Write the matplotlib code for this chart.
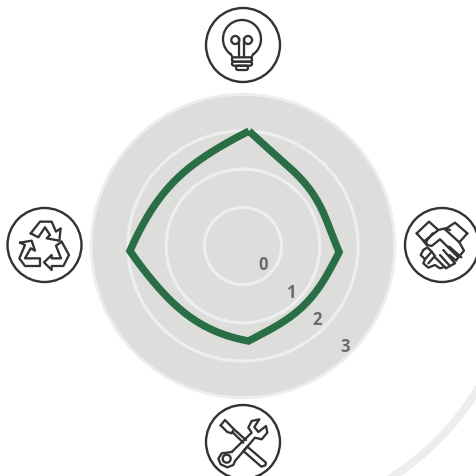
import numpy as np
import matplotlib
matplotlib.use("Agg")
import matplotlib.pyplot as plt
from matplotlib.patches import Circle, Arc, FancyBboxPatch

# ---- data ----
angle_deg = [3.0, 17.9, 31.1, 46.4, 63.1, 78.3, 93.6, 105.4, 120.7, 140.7, 159.9, 176.7,
             204.0, 224.5, 242.1, 256.5, 267.5, 278.8, 292.9, 312.0, 331.3, 346.9, 363.0]
values = [2.00, 1.55, 1.37, 1.30, 1.25, 1.31, 1.51, 1.35, 1.24, 1.22, 1.27, 1.48,
          1.31, 1.34, 1.41, 1.68, 1.95, 1.72, 1.55, 1.46, 1.50, 1.65, 2.00]
corner_index = [0, 6, 11, 16, 22]
ring_values = [0, 1, 2, 3]
ring_labels = ["0", "1", "2", "3"]

W, H = 477, 476
CX, CY = 243, 246
UNIT, R0 = 38.3, 38.5
RADIUS = 151.7
PX = 72 / 100
DISK, RING, GREEN, INK, LABEL = "#dddddb", "#eceef0", "#2a6e45", "#333333", "#6b6b6b"

fig = plt.figure(figsize=(W / 100, H / 100), dpi=100, facecolor="white")

# pixel-space layer for the background arc
bg = fig.add_axes([0, 0, 1, 1])
bg.set_xlim(0, W)
bg.set_ylim(H, 0)
bg.axis("off")
bg.add_patch(Arc((CX, CY), 550, 550, theta1=0, theta2=90, ec="#ebedef", lw=8 * PX))

# radar
ax = fig.add_axes([(CX - RADIUS) / W, (H - CY - RADIUS) / H, 2 * RADIUS / W, 2 * RADIUS / H], projection="polar")
ax.set_theta_zero_location("N")
ax.set_theta_direction(-1)
ax.set_facecolor(DISK)
ax.set_rlim(-R0 / UNIT, (RADIUS - R0) / UNIT)
ax.set_xticks([])
ax.set_yticks([])
ax.grid(False)
ax.spines["polar"].set_color("#ebedef")
ax.spines["polar"].set_linewidth(3 * PX)
t = np.linspace(0, 2 * np.pi, 361)
for v in ring_values[:-1]:
    ax.plot(t, np.full_like(t, v), color=RING, lw=3.2 * PX, zorder=2)

# the polygon: each side between two corners is drawn as a smooth curve through the read values
th_all, r_all = [], []
for i0, i1 in zip(corner_index[:-1], corner_index[1:]):
    a = np.array(angle_deg[i0:i1 + 1])
    v = np.array(values[i0:i1 + 1])
    weight = np.ones_like(a)
    weight[[0, -1]] = 30
    coef = np.polyfit(a - a.mean(), v, 4, w=weight)
    dense = np.linspace(a[0], a[-1], 60)
    curve = np.polyval(coef, dense - a.mean())
    curve += np.linspace(v[0] - curve[0], v[-1] - curve[-1], dense.size)  # end exactly on the corners
    th_all.append(dense if not th_all else dense[1:])
    r_all.append(curve if not r_all else curve[1:])
ax.plot(np.deg2rad(np.concatenate(th_all)), np.concatenate(r_all), color=GREEN, lw=7.4 * PX,
        solid_joinstyle="miter", solid_capstyle="butt", zorder=3)

for v, s in zip(ring_values, ring_labels):
    ax.annotate(s, xy=(np.deg2rad(135), v), xytext=(-6.8 * PX, 7.8 * PX), textcoords="offset points",
                ha="center", va="center", fontsize=12, fontweight="bold", family="Open Sans",
                color=LABEL, zorder=4, annotation_clip=False)

# icons, on top
ic = fig.add_axes([0, 0, 1, 1], facecolor="none")
ic.set_xlim(0, W)
ic.set_ylim(H, 0)
ic.axis("off")
LW = 2.3 * PX


def ring(cx, cy):
    ic.add_patch(Circle((cx, cy), 37, fill=False, ec=INK, lw=2.4 * PX))


def poly(ox, oy, pts, close=False):
    a = np.array(pts + pts[:1] if close else pts, float) / 3
    ic.plot(a[:, 0] + ox, a[:, 1] + oy, color=INK, lw=LW, solid_joinstyle="round", solid_capstyle="round")


# light bulb
cx, cy = 243, 45
ring(cx, cy)
ic.add_patch(Arc((cx - 1, cy - 6), 38, 38, theta1=125, theta2=415, ec=INK, lw=LW))
ic.plot([cx - 11.9, cx - 10.5], [cy + 9.6, cy + 12.3], color=INK, lw=LW)
ic.plot([cx + 9.9, cx + 8.5], [cy + 9.6, cy + 12.3], color=INK, lw=LW)
for x0, w, y0, h in [(-11, 20, 12.3, 4.4), (-11, 20, 16.7, 4.0), (-7, 12, 20.7, 4.3)]:
    ic.add_patch(FancyBboxPatch((cx + x0, cy + y0), w, h, boxstyle="round,pad=0,rounding_size=2",
                                fill=False, ec=INK, lw=LW))
for dx in (-3.7, 1):
    ic.plot([cx + dx, cx + dx], [cy - 6, cy + 12.3], color=INK, lw=LW)
ic.add_patch(Arc((cx - 7.7, cy - 5), 8, 8, theta1=0, theta2=360, ec=INK, lw=LW))
ic.add_patch(Arc((cx + 5, cy - 5), 8, 8, theta1=0, theta2=360, ec=INK, lw=LW))

# handshake (zoom coordinates relative to crop origin)
ring(442, 245)
ox, oy = 390, 200
for pts, c in [
    ([(80, 100), (117, 65), (145, 90), (102, 124)], True),
    ([(232, 100), (195, 68), (165, 88), (208, 127)], True),
    ([(145, 90), (165, 85), (180, 90)], False),
    ([(128, 100), (108, 125), (112, 135), (125, 138), (150, 118), (205, 172), (198, 182), (178, 165)], False),
    ([(208, 127), (222, 152), (205, 172)], False),
    ([(178, 140), (214, 172)], False),
    ([(160, 150), (195, 190), (180, 198), (150, 165)], False),
    ([(180, 198), (168, 205), (135, 172)], False),
    ([(100, 122), (110, 135)], False),
    ([(100, 150), (92, 165), (105, 178), (100, 190), (115, 203), (135, 195), (150, 205), (165, 200)], False),
    ([(100, 150), (112, 142), (125, 155), (105, 178)], False),
    ([(125, 155), (135, 168), (115, 190)], False),
]:
    poly(ox, oy, pts, c)

# recycle
ring(44.5, 245)
ox, oy = 0, 200
for pts in [
    [(92, 100), (120, 65), (155, 65), (168, 95), (182, 85), (178, 122), (140, 115), (150, 105), (135, 82), (115, 112)],
    [(60, 128), (95, 122), (105, 152), (92, 145), (75, 175), (120, 175), (120, 198), (75, 198), (58, 175), (75, 135)],
    [(185, 125), (207, 165), (190, 198), (155, 198), (155, 210), (132, 187), (155, 165), (155, 175), (183, 175), (168, 137)],
]:
    poly(ox, oy, pts, True)

# tools
ring(243, 442)
ox, oy = 190, 396
for pts, c in [
    ([(92, 88), (105, 72), (132, 100), (125, 112), (112, 108)], True),
    ([(127, 108), (160, 140)], False),
    ([(132, 100), (168, 132)], False),
    ([(172, 152), (228, 200), (226, 208), (214, 212), (160, 165)], True),
    ([(125, 168), (185, 110), (175, 95), (185, 75), (208, 70), (193, 93), (205, 108), (228, 90),
      (232, 110), (215, 130), (195, 125), (135, 195), (130, 207), (112, 214), (92, 205), (85, 188), (95, 172), (125, 168)], False),
]:
    poly(ox, oy, pts, c)
ic.add_patch(Circle((190 + 110 / 3, 396 + 188 / 3), 4, fill=False, ec=INK, lw=LW))

fig.savefig("out.png", dpi=100, facecolor="white")
